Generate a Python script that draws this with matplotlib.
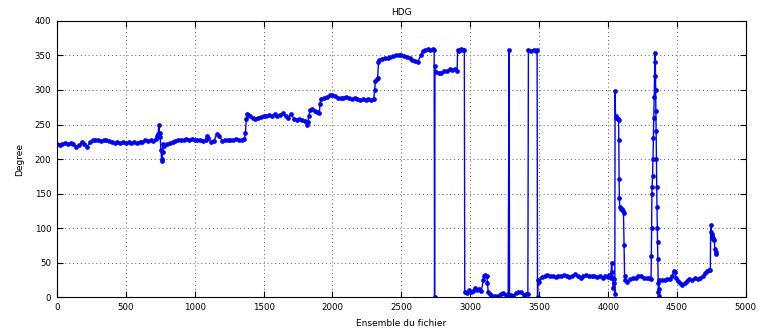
import matplotlib.pyplot as plt
import numpy as np

# HDG heading per ensemble
ens_a = [0, 20, 40, 60, 80, 100, 120, 140, 160, 180, 200, 220, 240, 260, 280, 300, 320, 340,
         360, 380, 400, 420, 440, 460, 480, 500, 520, 540, 560, 580, 600, 620, 640, 660, 680,
         700, 720, 728, 735, 740, 745, 750, 755, 760, 763, 768, 772, 780]
hdg_a = [222, 221, 222, 223, 222, 223, 222, 218, 220, 224, 222, 218, 224, 227, 228, 227, 226, 227,
         228, 226, 224, 223, 224, 223, 224, 223, 224, 223, 224, 223, 224, 225, 227, 226, 227,
         226, 229, 233, 236, 249, 238, 232, 213, 200, 197, 210, 222, 219]

ens_b = [800, 820, 840, 860, 880, 900, 920, 940, 960, 980, 1000, 1020, 1040, 1060, 1080, 1090,
         1100, 1120, 1140, 1160, 1180, 1200, 1220, 1240, 1260, 1280, 1300, 1320, 1340, 1360,
         1368, 1375, 1380, 1390, 1400, 1420, 1440, 1460, 1480, 1500, 1520, 1540, 1560, 1580,
         1600, 1620, 1640, 1660, 1680, 1700, 1720, 1740, 1760, 1780, 1800, 1812, 1822, 1830,
         1836, 1850, 1870, 1890, 1905, 1910, 1915, 1940, 1960, 1980, 2000, 2020, 2040, 2060,
         2080, 2100, 2120, 2140, 2160, 2180, 2200, 2220, 2240, 2260, 2280, 2300]
hdg_b = [222, 223, 224, 226, 227, 227, 228, 229, 228, 229, 228, 227, 228, 226, 228, 234,
         231, 225, 226, 236, 234, 226, 228, 227, 228, 227, 229, 228, 227, 229,
         237, 258, 265, 264, 262, 259, 258, 260, 261, 262, 263, 264, 262, 265,
         263, 264, 267, 262, 260, 265, 258, 257, 258, 256, 255, 250, 254, 262,
         271, 273, 270, 268, 267, 280, 287, 288, 290, 292, 292, 291, 289, 288,
         289, 290, 288, 287, 288, 287, 286, 287, 286, 287, 285, 287]

ens_c = [2306, 2312, 2320, 2328, 2334, 2340, 2360, 2380, 2400, 2420, 2440, 2460, 2480, 2500,
         2520, 2540, 2560, 2580, 2600, 2620, 2640, 2655, 2670, 2690, 2710, 2730, 2738, 2741,
         2744, 2750, 2770, 2790, 2810, 2830, 2850, 2870, 2890, 2905, 2908, 2920, 2935, 2950,
         2957, 2960, 2975, 2990, 3005, 3020, 3035, 3050, 3065, 3080, 3095, 3100, 3110, 3120,
         3125, 3130, 3145, 3160, 3180, 3200, 3220, 3240, 3260, 3275, 3282, 3285, 3295, 3310,
         3330, 3350, 3370, 3390, 3405, 3418, 3422, 3440, 3460, 3480, 3485, 3488, 3492]
hdg_c = [300, 313, 316, 318, 340, 343, 345, 346, 346, 348, 349, 350, 350, 351,
         349, 348, 346, 344, 342, 341, 350, 356, 358, 359, 358, 359, 358, 0,
         334, 326, 324, 325, 327, 328, 330, 329, 331, 328, 358, 357, 359, 358,
         358, 8, 6, 10, 7, 9, 13, 10, 12, 9, 25, 30, 32, 31,
         20, 8, 4, 2, 1, 2, 5, 6, 3, 5, 358, 0, 3, 2,
         6, 8, 7, 3, 5, 4, 358, 357, 358, 357, 358, 0, 25]

ens_d = [3500, 3520, 3540, 3560, 3580, 3600, 3620, 3640, 3660, 3680, 3700, 3720, 3740, 3760,
         3780, 3800, 3820, 3840, 3860, 3880, 3900, 3920, 3940, 3960, 3980, 4000, 4010, 4020,
         4026, 4030, 4034, 4038, 4042, 4046, 4049, 4051, 4054, 4060, 4066, 4072, 4076, 4078,
         4080, 4082, 4085, 4092, 4100, 4108, 4112, 4116, 4120, 4125, 4140, 4160, 4180, 4200,
         4220, 4240, 4260, 4280, 4300, 4312]
hdg_d = [22, 29, 30, 32, 30, 31, 29, 31, 30, 32, 31, 29, 31, 33,
         30, 28, 31, 32, 30, 31, 30, 29, 30, 28, 31, 29, 32, 28,
         50, 36, 28, 13, 26, 20, 4, 298, 262, 260, 259, 258, 257, 228,
         171, 143, 130, 128, 127, 125, 122, 75, 30, 25, 22, 26, 27, 28,
         31, 30, 27, 28, 27, 26]

ens_e = [4314, 4316, 4318, 4320, 4323, 4326, 4329, 4332, 4335, 4338, 4341, 4343, 4345, 4347,
         4349, 4351, 4353, 4355, 4357, 4359, 4361, 4363, 4365, 4367, 4369, 4372, 4390, 4410,
         4430, 4450, 4465, 4475, 4485, 4495, 4510, 4525, 4540, 4555, 4570, 4590, 4610, 4630,
         4650, 4670, 4690, 4705, 4720, 4735, 4742, 4745, 4748, 4752, 4756, 4760, 4765, 4770,
         4775, 4780, 4785]
hdg_e = [60, 100, 150, 160, 175, 200, 230, 260, 290, 320, 354, 340, 300, 270,
         240, 200, 160, 130, 100, 80, 55, 20, 8, 2, 12, 25, 25, 25,
         26, 26, 30, 38, 36, 28, 24, 20, 17, 20, 24, 26, 25, 27,
         26, 27, 30, 35, 38, 39, 40, 105, 95, 88, 92, 84, 86, 83,
         70, 65, 62]

ensemble = np.array(ens_a + ens_b + ens_c + ens_d + ens_e)
hdg = np.array(hdg_a + hdg_b + hdg_c + hdg_d + hdg_e)

plt.rcParams['font.family'] = 'DejaVu Sans'
fig = plt.figure(figsize=(7.58, 3.32), dpi=100)
ax = fig.add_axes([0.075, 0.105, 0.909, 0.832])

ax.plot(ensemble, hdg, color='#0000ff', linewidth=1.0, marker='o', markersize=3.4,
        markeredgewidth=0)

ax.set_xlim(0, 5000)
ax.set_ylim(0, 400)
ax.set_xticks(list(range(0, 5001, 500)))
ax.set_yticks(list(range(0, 401, 50)))
ax.tick_params(direction='in', length=4, width=0.8, labelsize=6.2, top=True, right=True,
               pad=4)
ax.grid(True, color='#555555', linestyle=(0, (1, 3)), linewidth=0.7)
for s in ax.spines.values():
    s.set_linewidth(0.8)

ax.set_title('HDG', fontsize=6.5, pad=4)
ax.set_xlabel('Ensemble du fichier', fontsize=6.5, labelpad=5)
ax.set_ylabel('Degree', fontsize=6.5, labelpad=8)

plt.savefig('out.png', dpi=100)
